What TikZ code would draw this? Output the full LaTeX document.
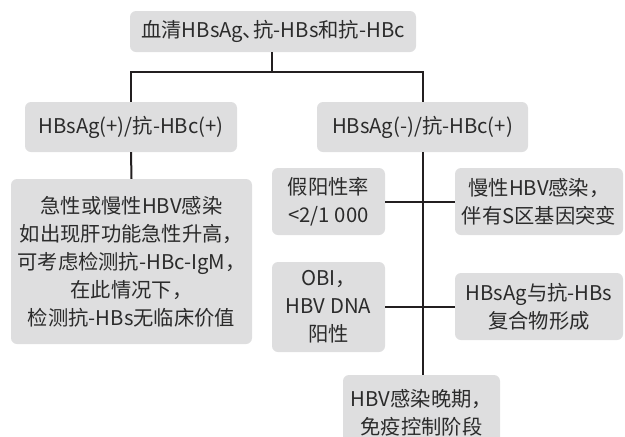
\documentclass[tikz,border=0pt]{standalone}
\usepackage{fontspec}
\setmainfont{Noto Sans CJK SC}
\definecolor{boxgray}{HTML}{DEDEDF}
\definecolor{txt}{HTML}{2B2B2B}
\definecolor{ln}{HTML}{231F20}
\begin{document}
\begin{tikzpicture}[x=1pt,y=-1pt,
  box/.style={fill=boxgray,rounded corners=6pt,inner sep=0pt,align=center,text=txt,
    font=\fontsize{20.3}{28}\selectfont},
  conn/.style={draw=ln,line width=2pt}]
\useasboundingbox (0,0) rectangle (625,437);
\clip (0,0) rectangle (625,437);
\node[box,minimum width=286pt,minimum height=41pt] (top) at (273,31.5) {血清HBsAg\kern-1pt 、\kern-9pt 抗-HBs和抗-HBc};
\node[box,minimum width=212pt,minimum height=50pt] (L) at (131,127) {HBsAg(+)/抗-HBc(+)};
\node[box,minimum width=211pt,minimum height=50pt] (R) at (422.5,127) {HBsAg(-)/抗-HBc(+)};
\node[box,minimum width=241pt,minimum height=165pt] (big) at (131.5,261.5) {急性或慢性HBV感染\\如出现肝功能急性升高，\\可考虑检测抗-HBc-IgM，\\在此情况下，\\检测抗-HBs无临床价值};
\node[box,minimum width=113pt,minimum height=67pt] (fp) at (328.5,201.5) {假阳性率\\<2/1 000};
\node[box,minimum width=168pt,minimum height=67pt] (chr) at (539,201.5) {慢性HBV感染，\\伴有S区基因突变};
\node[box,minimum width=113pt,minimum height=90pt] (obi) at (328.5,307) {OBI，\\HBV DNA\\阳性};
\node[box,minimum width=168pt,minimum height=67pt] (cplx) at (539,306.5) {HBsAg与抗-HBs\\复合物形成};
\node[box,minimum width=157pt,minimum height=74pt,text depth=0pt] (late) at (421.5,412) {HBV感染晚期，\\免疫控制阶段};
\coordinate (j) at (272,72);
\draw[conn] (top.south -| j) -- (j);
\draw[conn] (L.north) |- (j) -| (R.north);
\draw[conn] (L.south) -- (big.north);
\draw[conn] (R.south) -- (late.north -| R.south);
\draw[conn] (fp.east) -- (chr.west);
\draw[conn] (obi.east) -- (obi.east -| cplx.west);
\end{tikzpicture}
\end{document}
